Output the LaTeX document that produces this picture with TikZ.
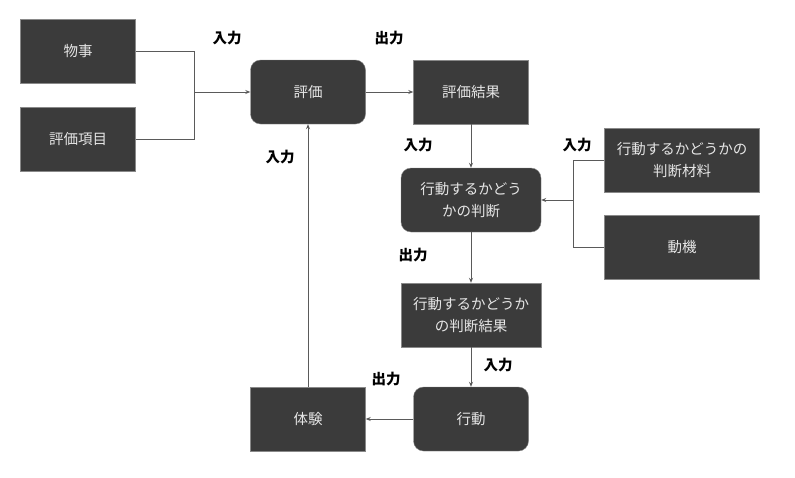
\documentclass[tikz,border=0pt]{standalone}
\usepackage{fontspec}
\setmainfont{Noto Sans CJK JP}
\usepackage{xcolor}
\usetikzlibrary{arrows.meta}
\definecolor{boxgray}{HTML}{3B3B3B}
\definecolor{linegray}{HTML}{5A5A5A}
\definecolor{textgray}{HTML}{E6E6E6}
\tikzset{%
  tipA/.tip={Stealth[length=5pt,width=4pt]},
  card/.style={fill=boxgray,draw=boxgray!60,text=textgray,minimum width=115pt,
    minimum height=64pt,inner sep=0pt,align=center,font=\fontsize{14.5}{22}\selectfont},
  softcard/.style={card,rounded corners=10pt},
  wide/.style={minimum width=140pt},
  flow/.style={linegray,line width=0.8pt},
  tag/.style={font=\fontsize{14.5}{16}\selectfont\bfseries,text=black}
}

\begin{document}
\begin{tikzpicture}[x=1pt,y=-1pt]
\useasboundingbox (0,0) rectangle (795,477);
% boxes
\node[card] (thing) at (78,51) {物事};
\node[card] (item) at (78,139) {評価項目};
\node[softcard] (eval) at (308,92) {評価};
\node[card] (result) at (471,92) {評価結果};
\node[softcard,wide] (judge) at (471,200) {行動するかどう\\かの判断};
\node[card,minimum width=155pt] (material) at (682,160) {行動するかどうかの\\判断材料};
\node[card,minimum width=155pt] (motive) at (682,247) {動機};
\node[card,wide] (jresult) at (471,315) {行動するかどうか\\の判断結果};
\node[softcard] (act) at (471,419) {行動};
\node[card] (exp) at (308,419) {体験};
% junctions
\coordinate (jA) at (194,92);
\coordinate (jB) at (573,200);
% connectors
\draw[flow] (thing.east) -| (jA);
\draw[flow] (item.east) -| (jA);
\draw[flow,-tipA] (jA) -- (eval.west);
\draw[flow,-tipA] (eval) -- (result);
\draw[flow,-tipA] (result) -- (judge);
\draw[flow] (material.west) -| (jB);
\draw[flow] (motive.west) -| (jB);
\draw[flow,-tipA] (jB) -- (judge.east);
\draw[flow,-tipA] (judge) -- (jresult);
\draw[flow,-tipA] (jresult) -- (act);
\draw[flow,-tipA] (act) -- (exp);
\draw[flow,-tipA] (exp) -- (eval);
% labels
\node[tag] (inA) at (227,38) {入力};
\node[tag] (outA) at (389,38) {出力};
\node[tag] (inB) at (418,145) {入力};
\node[tag] (inC) at (577,145) {入力};
\node[tag] (outB) at (413,255) {出力};
\node[tag] (inD) at (498,365) {入力};
\node[tag] (outC) at (386,379) {出力};
\node[tag] (inE) at (280,157) {入力};
\end{tikzpicture}
\end{document}
